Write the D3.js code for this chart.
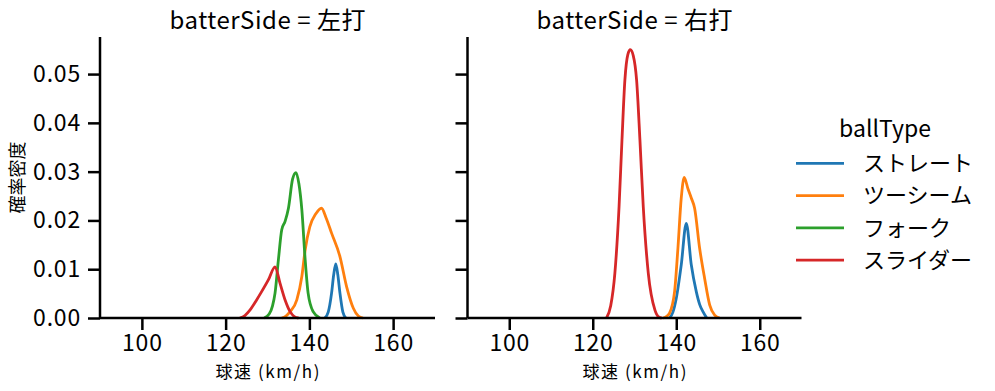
<!DOCTYPE html>
<html>
<head>
<meta charset="utf-8">
<script src="https://cdn.jsdelivr.net/npm/d3@7"></script>
<style>
html,body{margin:0;padding:0;background:#fff;}
svg{display:block;}
text{font-family:"Noto Sans CJK JP","Noto Sans",sans-serif;fill:#000;}
</style>
</head>
<body>
<svg id="chart" width="995" height="391"></svg>
<script>
// ---- data ----
const panels = ["左打", "右打"];
const ballTypes = ["ストレート", "ツーシーム", "フォーク", "スライダー"];
const colors = ["#1f77b4", "#ff7f0e", "#2ca02c", "#d62728"];
const xTicks = [100, 120, 140, 160];
const yTicks = [0.00, 0.01, 0.02, 0.03, 0.04, 0.05];
const yTickLabels = ["0.00", "0.01", "0.02", "0.03", "0.04", "0.05"];

// density curves: [speed, density]
// 左打
const left_straight = [[143.7,0],[144.5,0.0012],[145.3,0.0051],[145.8,0.0088],[146.3,0.0111],[146.8,0.0088],[147.3,0.0051],[148.0,0.0012],[148.7,0]];
const left_twoseam = [[133.4,0],[134.4,0.0004],[135.4,0.0013],[137.0,0.0037],[138.2,0.0085],[139.0,0.014],[140.1,0.0187],[141.5,0.0213],[142.9,0.0225],[144.0,0.0205],[145.3,0.0174],[147.3,0.0126],[148.9,0.0064],[150.5,0.002],[151.7,0.0004],[152.8,0]];
const left_fork = [[129.2,0],[130.4,0.0008],[131.2,0.0025],[131.8,0.0051],[132.6,0.0119],[133.4,0.0181],[134.2,0.0198],[135.0,0.0225],[136.0,0.0285],[136.8,0.0298],[137.5,0.0275],[138.2,0.0222],[139.0,0.0119],[139.7,0.0051],[140.9,0.0013],[142.5,0]];
const left_slider = [[123.4,0],[124.6,0.0005],[125.8,0.0016],[127.4,0.0037],[128.6,0.0054],[130.2,0.0078],[131.8,0.0105],[133.0,0.0071],[134.2,0.0037],[135.4,0.0013],[136.4,0.0003],[137.4,0]];
// 右打
const right_straight = [[138.4,0],[139.2,0.0012],[140.0,0.004],[141.2,0.0109],[142.4,0.0194],[143.6,0.0109],[144.8,0.0054],[145.6,0.0028],[146.4,0.0013],[147.3,0]];
const right_twoseam = [[136.8,0],[137.6,0.0003],[138.4,0.001],[139.6,0.0054],[140.4,0.0143],[141.2,0.0246],[141.9,0.0288],[142.8,0.0265],[143.6,0.0246],[144.4,0.0225],[145.6,0.0143],[146.8,0.0081],[148.0,0.0027],[149.2,0.0006],[150.4,0]];
const right_fork = [];
const right_slider = [[123.3,0],[124.3,0.0025],[125.3,0.0092],[126.3,0.0228],[127.0,0.0365],[127.7,0.0488],[128.4,0.0540],[129.0,0.0550],[129.7,0.0538],[130.5,0.0488],[131.3,0.0365],[132.1,0.0228],[133.3,0.0092],[134.9,0.0016],[135.8,0.0002],[136.5,0]];

const curves = [
  [left_straight, left_twoseam, left_fork, left_slider],
  [right_straight, right_twoseam, right_fork, right_slider]
];

// ---- layout ----
const svg = d3.select("#chart");
const plotTop = 37, plotBottom = 318;
const panelX = [[100, 435], [467.5, 801.5]];
const y = d3.scaleLinear().domain([0, 0.0576]).range([plotBottom, plotTop]);

panels.forEach((p, i) => {
  const x = d3.scaleLinear().domain([90, 170]).range(panelX[i]);
  const g = svg.append("g");

  curves[i].forEach((c, k) => {
    if (!c.length) return;
    g.append("path")
      .datum(c)
      .attr("fill", "none")
      .attr("stroke", colors[k])
      .attr("stroke-width", 2.8)
      .attr("stroke-linejoin", "round")
      .attr("d", d3.line().x(d => x(d[0])).y(d => y(d[1])).curve(d3.curveMonotoneX));
  });

  const xa = g.append("g").attr("transform", `translate(0,${plotBottom})`)
    .call(d3.axisBottom(x).tickValues(xTicks).tickSize(12).tickPadding(5).tickFormat(d3.format("d")));
  const ya = g.append("g").attr("transform", `translate(${panelX[i][0]},0)`)
    .call(d3.axisLeft(y).tickValues(yTicks).tickSize(12).tickPadding(7)
      .tickFormat((d, j) => i === 0 ? yTickLabels[j] : ""));
  [xa, ya].forEach(a => {
    a.select(".domain").attr("stroke", "#000").attr("stroke-width", 2.5);
    a.selectAll(".tick line").attr("stroke", "#000").attr("stroke-width", 2.5);
    a.selectAll(".tick text").attr("font-size", 23).attr("fill", "#000")
      .attr("letter-spacing", 0.8)
      .style("font-family", '"Noto Sans CJK JP","Noto Sans",sans-serif');
  });
  xa.select(".domain").attr("d", `M${panelX[i][0]},0H${panelX[i][1]}`);
  ya.select(".domain").attr("d", `M0,${plotBottom}V${plotTop}`);

  g.append("text")
    .attr("x", (panelX[i][0] + panelX[i][1]) / 2)
    .attr("y", 29)
    .attr("text-anchor", "middle")
    .attr("font-size", 24)
    .attr("textLength", 196)
    .attr("lengthAdjust", "spacing")
    .text(`batterSide = ${p}`);

  g.append("text")
    .attr("x", (panelX[i][0] + panelX[i][1]) / 2)
    .attr("y", 378)
    .attr("text-anchor", "middle")
    .attr("font-size", 17)
    .attr("textLength", 104)
    .attr("lengthAdjust", "spacing")
    .text("球速 (km/h)");
});

svg.append("text")
  .attr("transform", `translate(24,${(plotTop + plotBottom) / 2}) rotate(-90)`)
  .attr("text-anchor", "middle")
  .attr("font-size", 18)
  .text("確率密度");

const lg = svg.append("g");
lg.append("text").attr("x", 885).attr("y", 137).attr("text-anchor", "middle")
  .attr("font-size", 23).text("ballType");
ballTypes.forEach((b, k) => {
  const yy = 163.3 + k * 32.3;
  lg.append("line").attr("x1", 796).attr("x2", 844).attr("y1", yy).attr("y2", yy)
    .attr("stroke", colors[k]).attr("stroke-width", 2.8);
  lg.append("text").attr("x", 863).attr("y", yy).attr("dy", "0.35em")
    .attr("font-size", 22).text(b);
});
</script>
</body>
</html>
